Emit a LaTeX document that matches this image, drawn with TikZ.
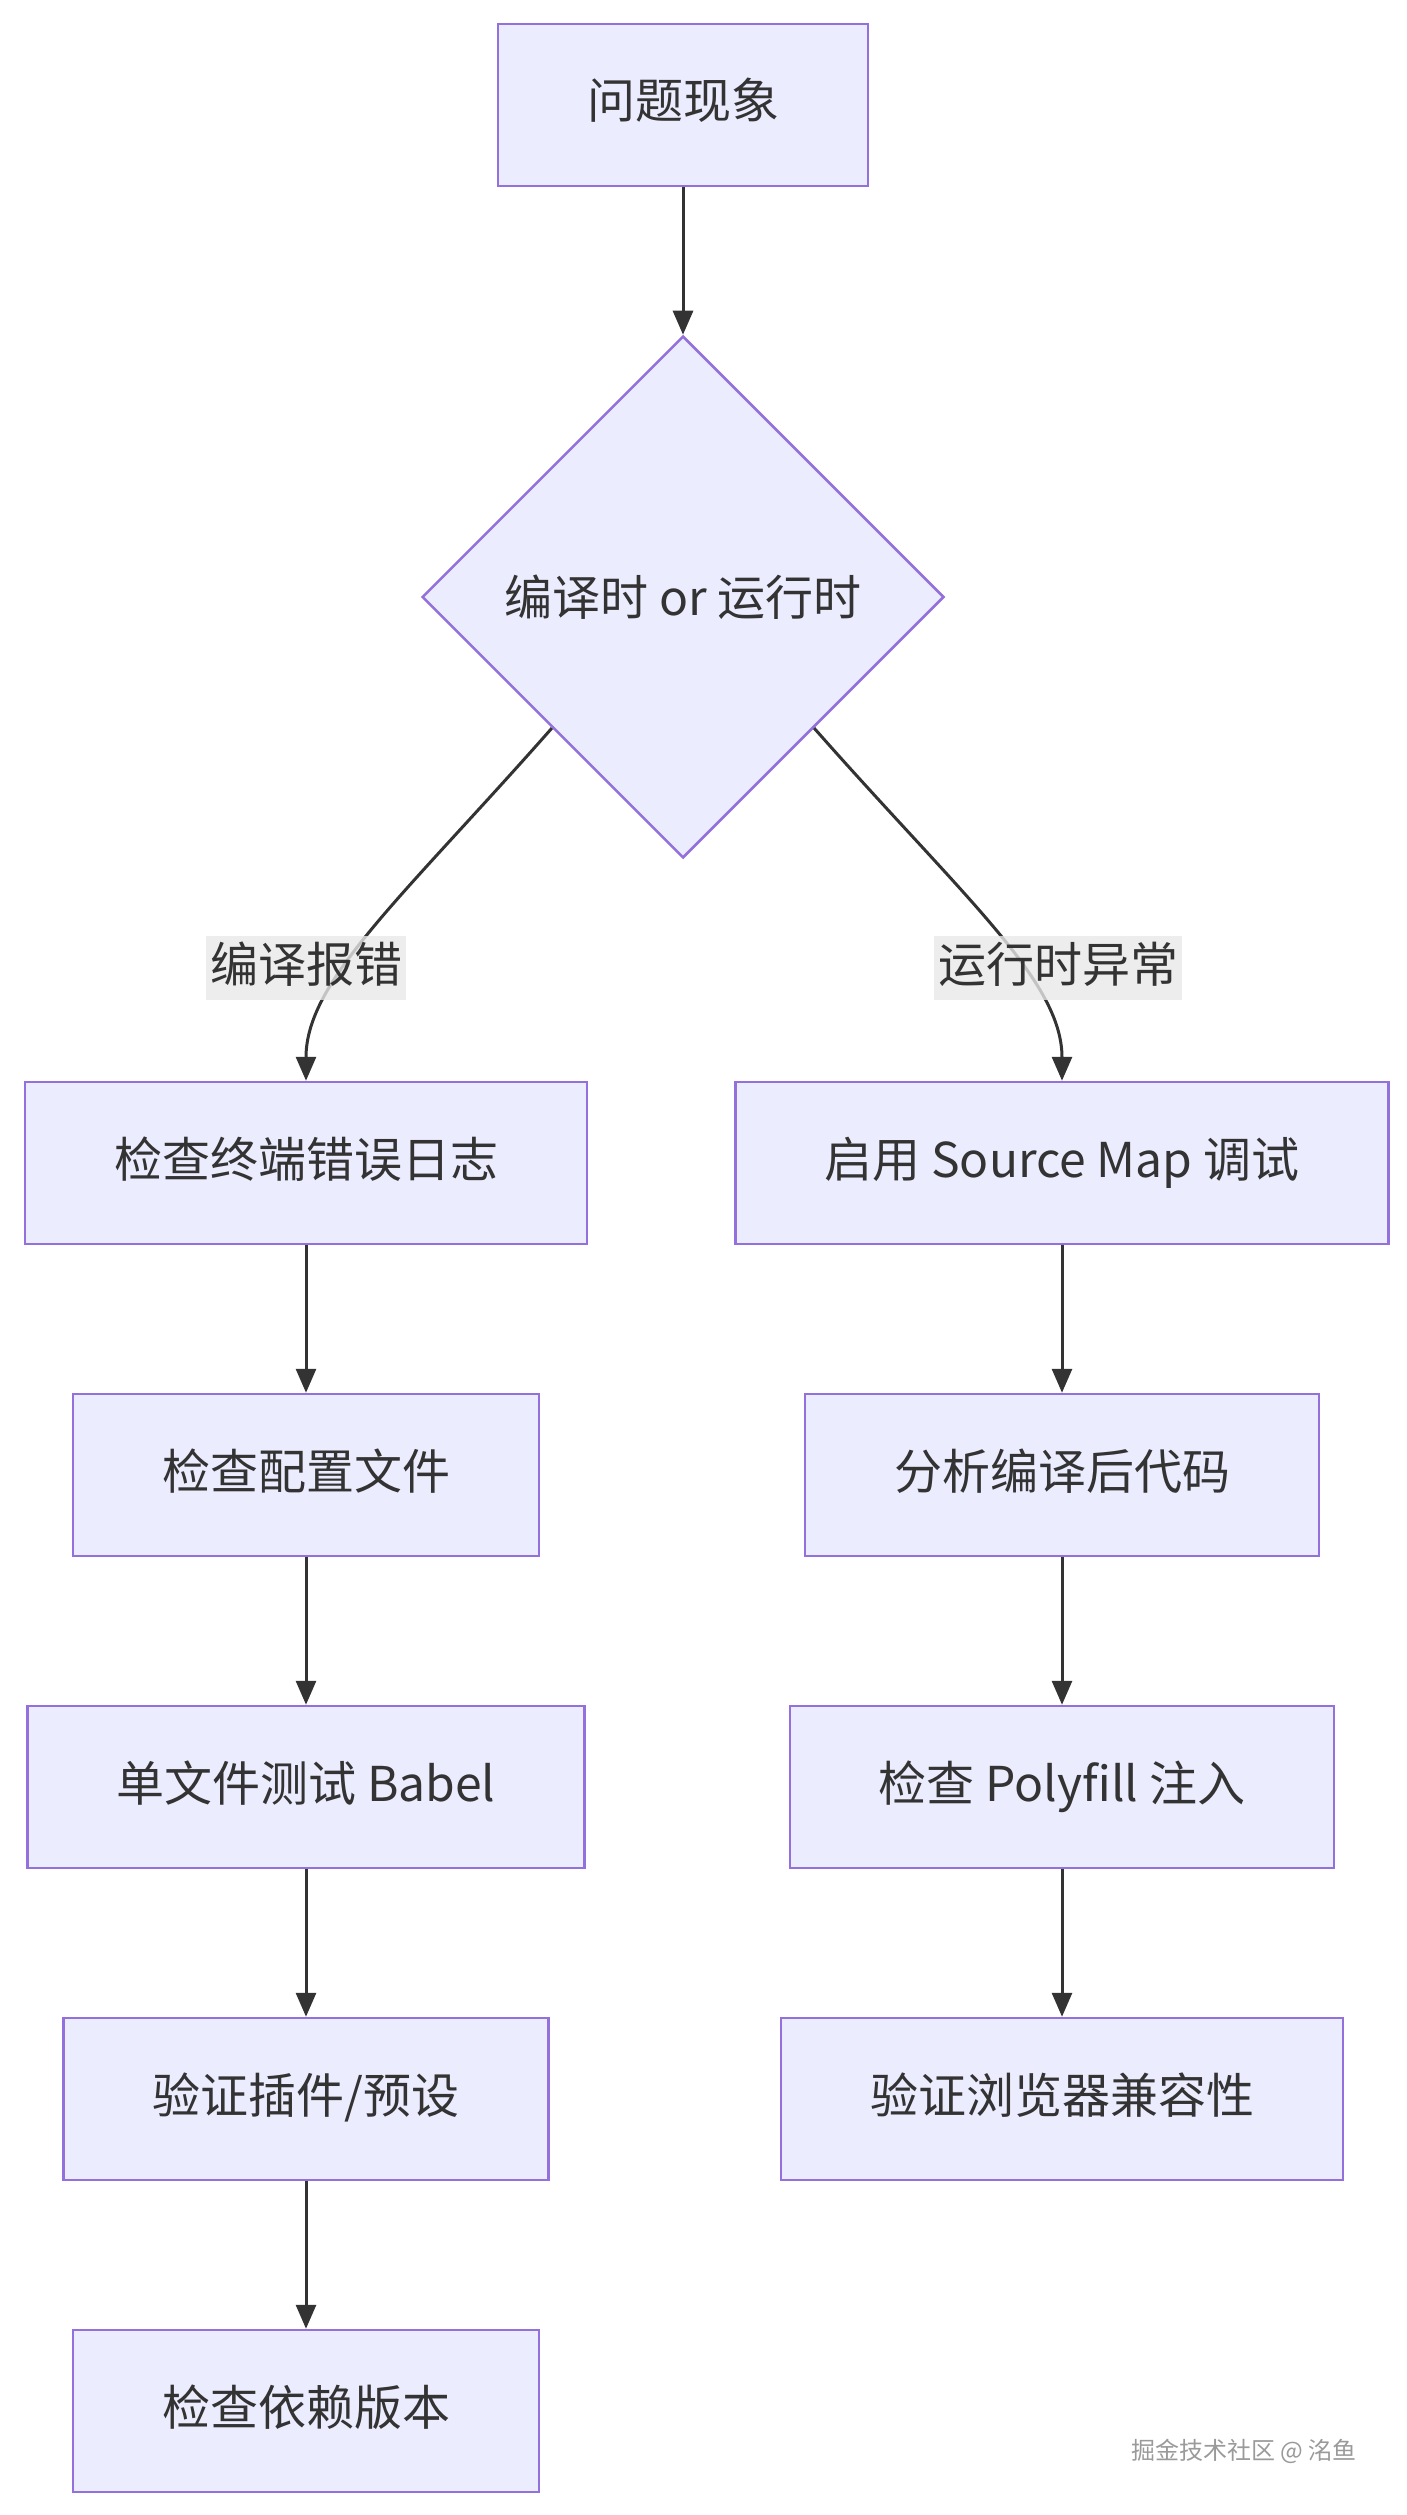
\documentclass[tikz,border=0pt]{standalone}
\usepackage{fontspec}
\setmainfont{Noto Sans CJK SC}
\usetikzlibrary{shapes.geometric,arrows.meta}
\definecolor{nodefill}{HTML}{ECECFF}
\definecolor{nodeline}{HTML}{9370DB}
\definecolor{edgeline}{HTML}{333333}
\definecolor{labelfill}{HTML}{E8E8E8}
\definecolor{marktext}{HTML}{9A9A9A}

\begin{document}
\begin{tikzpicture}[x=1pt, y=-1pt,
  proc/.style={draw=nodeline, fill=nodefill, line width=2.5pt, text=edgeline,
    font=\fontsize{48}{58}\selectfont, minimum height=162pt, inner xsep=89pt,
    text height=38pt, text depth=10pt},
  decide/.style={diamond, aspect=1, draw=nodeline, fill=nodefill, line width=2.5pt,
    text=edgeline, font=\fontsize{48}{58}\selectfont, minimum size=522pt, inner sep=0pt},
  flow/.style={draw=edgeline, line width=3pt, -{Triangle[width=20pt,length=24pt]}},
  tag/.style={fill=labelfill, fill opacity=0.8, text opacity=1, text=edgeline,
    font=\fontsize{48}{58}\selectfont, inner xsep=4pt, inner ysep=0pt,
    minimum height=64pt, text height=38pt, text depth=10pt}]

%\useasboundingbox[draw=red] (0,0) rectangle (1407,2515);
\useasboundingbox (0,0) rectangle (1407,2515);

\newcommand\XL{306}
\newcommand\XR{1062}
\newcommand\Y{312}
\newcommand\Yo{851}

\node[proc] (issue) at (683, 105) {问题现象};
\node[decide] (kind) at (683, 597) {编译时 or 运行时};

% compile side
\node[proc] (log) at (\XL, \Yo+1*\Y) {检查终端错误日志};
\node[proc] (conf) at (\XL, \Yo+2*\Y) {检查配置文件};
\node[proc] (babel) at (\XL, \Yo+3*\Y) {单文件测试 Babel};
\node[proc] (plug) at (\XL, \Yo+4*\Y) {验证插件/预设};
\node[proc] (deps) at (\XL, \Yo+5*\Y) {检查依赖版本};

% runtime side
\node[proc] (smap) at (\XR, \Yo+1*\Y) {启用 Source Map 调试};
\node[proc] (code) at (\XR, \Yo+2*\Y) {分析编译后代码};
\node[proc] (poly) at (\XR, \Yo+3*\Y) {检查 Polyfill 注入};
\node[proc] (brow) at (\XR, \Yo+4*\Y) {验证浏览器兼容性};

\draw[flow] (issue) -- (kind);

\draw[flow] (kind.south west) .. controls +(-150,170) and +(0,-100) .. (log.north);
\draw[flow] (kind.south east) .. controls +(150,170) and +(0,-100) .. (smap.north);

\draw[flow] (log) -- (conf);
\draw[flow] (conf) -- (babel);
\draw[flow] (babel) -- (plug);
\draw[flow] (plug) -- (deps);

\draw[flow] (smap) -- (code);
\draw[flow] (code) -- (poly);
\draw[flow] (poly) -- (brow);

\node[tag] (build) at (\XL, 968) {编译报错};
\node[tag] (run) at (1058, 968) {运行时异常};

\node[text=marktext, font=\fontsize{24}{28}\selectfont] (mark) at (1244, 2451) {掘金技术社区 @ 洺鱼};

\end{tikzpicture}
\end{document}
